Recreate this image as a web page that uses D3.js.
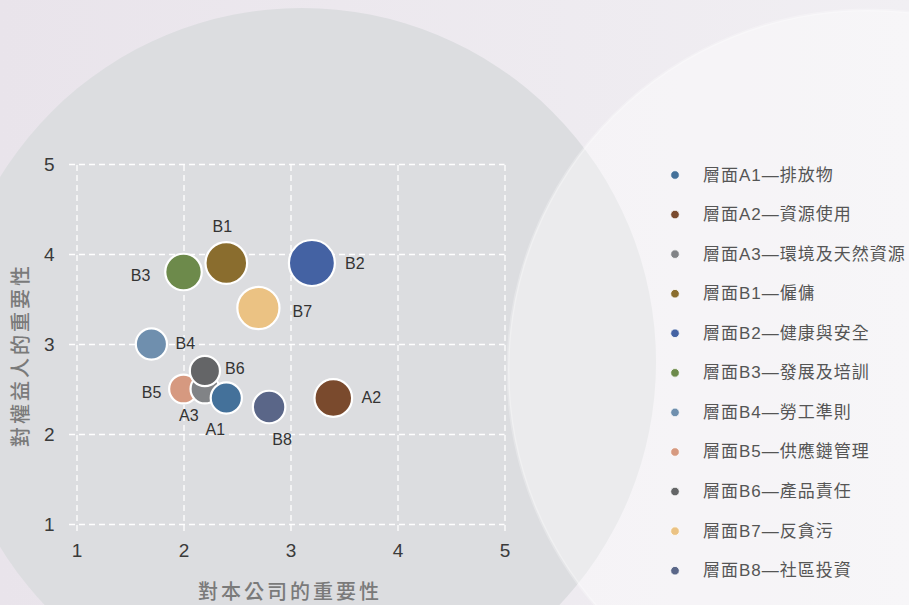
<!DOCTYPE html>
<html>
<head>
<meta charset="utf-8">
<script src="https://cdn.jsdelivr.net/npm/d3@7"></script>
<style>
  html, body { margin: 0; padding: 0; overflow: hidden; }
  body { width: 909px; height: 605px; }
  text { font-family: "Liberation Sans", "Noto Sans CJK TC", sans-serif; }
</style>
</head>
<body>
<div id="chart"></div>
<script>
// data
const categories = ["A1", "A2", "A3", "B1", "B2", "B3", "B4", "B5", "B6", "B7", "B8"];
const legendNames = [
    "層面A1—排放物",
    "層面A2—資源使用",
    "層面A3—環境及天然資源",
    "層面B1—僱傭",
    "層面B2—健康與安全",
    "層面B3—發展及培訓",
    "層面B4—勞工準則",
    "層面B5—供應鏈管理",
    "層面B6—產品責任",
    "層面B7—反貪污",
    "層面B8—社區投資"
];
const companyImportance = [2.4, 3.4, 2.2, 2.4, 3.2, 2.0, 1.7, 2.0, 2.2, 2.7, 2.8];
const stakeholderImportance = [2.4, 2.4, 2.5, 3.9, 3.9, 3.8, 3.0, 2.5, 2.7, 3.4, 2.3];
const bubbleSize = [46, 67, 39, 82, 100, 63, 46, 39, 43, 84, 50];
const tickValues = [1, 2, 3, 4, 5];

const colors = ["#44719a", "#7a4a2d", "#818386", "#8a6d2e", "#4462a3", "#6d8a4b",
                "#6f8fae", "#d69980", "#646567", "#ebc283", "#5a6688"];
// label centre offset from bubble centre
const labelOffsets = [[-11, 31], [38, -1], [-16, 26], [-4, -37], [43, 0], [-43, 3],
                      [34, -1], [-32, 3], [30, -3], [44, 3], [13, 32]];

const width = 909;
const height = 605;

const svg = d3.select("#chart")
    .append("svg")
    .attr("width", width)
    .attr("height", height);

// background
const defs = svg.append("defs");
const bgGrad = defs.append("linearGradient")
    .attr("id", "bgGrad")
    .attr("x1", "0").attr("y1", "0").attr("x2", "1").attr("y2", "0");
bgGrad.append("stop").attr("offset", "0%").attr("stop-color", "#e9e4eb");
bgGrad.append("stop").attr("offset", "100%").attr("stop-color", "#f1eff3");

svg.append("rect")
    .attr("width", width)
    .attr("height", height)
    .attr("fill", "url(#bgGrad)");

svg.append("circle")
    .attr("cx", 302).attr("cy", 362).attr("r", 354)
    .attr("fill", "#dcdde0");

svg.append("circle")
    .attr("cx", 868).attr("cy", 370).attr("r", 360)
    .attr("fill", "#ffffff")
    .attr("fill-opacity", 0.42)
    .attr("stroke", "#ffffff")
    .attr("stroke-opacity", 0.25)
    .attr("stroke-width", 3);

// scales
const x = d3.scaleLinear().domain([1, 5]).range([76.5, 504.5]);
const y = d3.scaleLinear().domain([1, 5]).range([524, 164]);
const r = d3.scaleSqrt().domain([0, 100]).range([0, 23]);

const plotW = x(5) - x(1);
const plotH = y(1) - y(5);

// y axis + horizontal grid
const yAxis = svg.append("g")
    .attr("transform", `translate(${x(1)},0)`)
    .call(d3.axisLeft(y).tickValues(tickValues).tickFormat(d3.format("d")).tickSize(0).tickPadding(22));
yAxis.select(".domain").remove();
yAxis.selectAll(".tick line")
    .attr("x1", -7.5)
    .attr("x2", plotW)
    .attr("stroke", "#ffffff")
    .attr("stroke-width", 1.3)
    .attr("stroke-dasharray", "6,4");
yAxis.selectAll(".tick text")
    .attr("font-size", "19px")
    .attr("fill", "#3a3a3a")
    .attr("font-family", "Liberation Sans, sans-serif");

// x axis + vertical grid
const xAxis = svg.append("g")
    .attr("transform", `translate(0,${y(1)})`)
    .call(d3.axisBottom(x).tickValues(tickValues).tickFormat(d3.format("d")).tickSize(0).tickPadding(20));
xAxis.select(".domain").remove();
xAxis.selectAll(".tick line")
    .attr("y1", 7)
    .attr("y2", -plotH)
    .attr("stroke", "#ffffff")
    .attr("stroke-width", 1.3)
    .attr("stroke-dasharray", "6,4");
xAxis.selectAll(".tick text")
    .attr("font-size", "19px")
    .attr("fill", "#3a3a3a")
    .attr("font-family", "Liberation Sans, sans-serif");

// axis titles
svg.append("text")
    .attr("x", 290)
    .attr("y", 599)
    .attr("text-anchor", "middle")
    .attr("font-size", "20px")
    .attr("font-weight", 500)
    .attr("letter-spacing", "3px")
    .attr("fill", "#7a7a7a")
    .style("font-family", "'Noto Sans CJK TC', sans-serif")
    .text("對本公司的重要性");

svg.append("text")
    .attr("transform", "translate(28,355) rotate(-90)")
    .attr("text-anchor", "middle")
    .attr("font-size", "20px")
    .attr("font-weight", 500)
    .attr("letter-spacing", "3px")
    .attr("fill", "#7a7a7a")
    .style("font-family", "'Noto Sans CJK TC', sans-serif")
    .text("對權益人的重要性");

// bubbles
const points = categories.map((c, i) => ({
    name: c,
    cx: companyImportance[i],
    cy: stakeholderImportance[i],
    size: bubbleSize[i],
    color: colors[i],
    offset: labelOffsets[i]
}));

// B5 sits under A3, A3 under A1 and B6
const layer = { B5: 0, A3: 1 };
const drawOrder = points.slice().sort((a, b) => (layer[a.name] ?? 2) - (layer[b.name] ?? 2));

svg.append("g")
    .selectAll("circle")
    .data(drawOrder)
    .enter()
    .append("circle")
    .attr("cx", d => x(d.cx))
    .attr("cy", d => y(d.cy))
    .attr("r", d => r(d.size))
    .attr("fill", d => d.color)
    .attr("stroke", "#ffffff")
    .attr("stroke-width", 2.2);

svg.append("g")
    .selectAll("text")
    .data(points)
    .enter()
    .append("text")
    .attr("x", d => x(d.cx) + d.offset[0])
    .attr("y", d => y(d.cy) + d.offset[1])
    .attr("text-anchor", "middle")
    .attr("dominant-baseline", "central")
    .attr("font-size", "16px")
    .attr("fill", "#333333")
    .text(d => d.name);

// legend
const legend = svg.append("g")
    .selectAll(".legend")
    .data(points)
    .enter()
    .append("g")
    .attr("class", "legend")
    .attr("transform", (d, i) => "translate(675," + (175 + i * 39.57) + ")");

legend.append("circle")
    .attr("r", 4.3)
    .attr("fill", d => d.color)
    .attr("stroke", "#ffffff")
    .attr("stroke-width", 0.8);

legend.append("text")
    .attr("x", 28)
    .attr("y", 0)
    .attr("dominant-baseline", "central")
    .attr("font-size", "17px")
    .attr("letter-spacing", "1px")
    .attr("fill", "#555555")
    .text((d, i) => legendNames[i]);
</script>
</body>
</html>
